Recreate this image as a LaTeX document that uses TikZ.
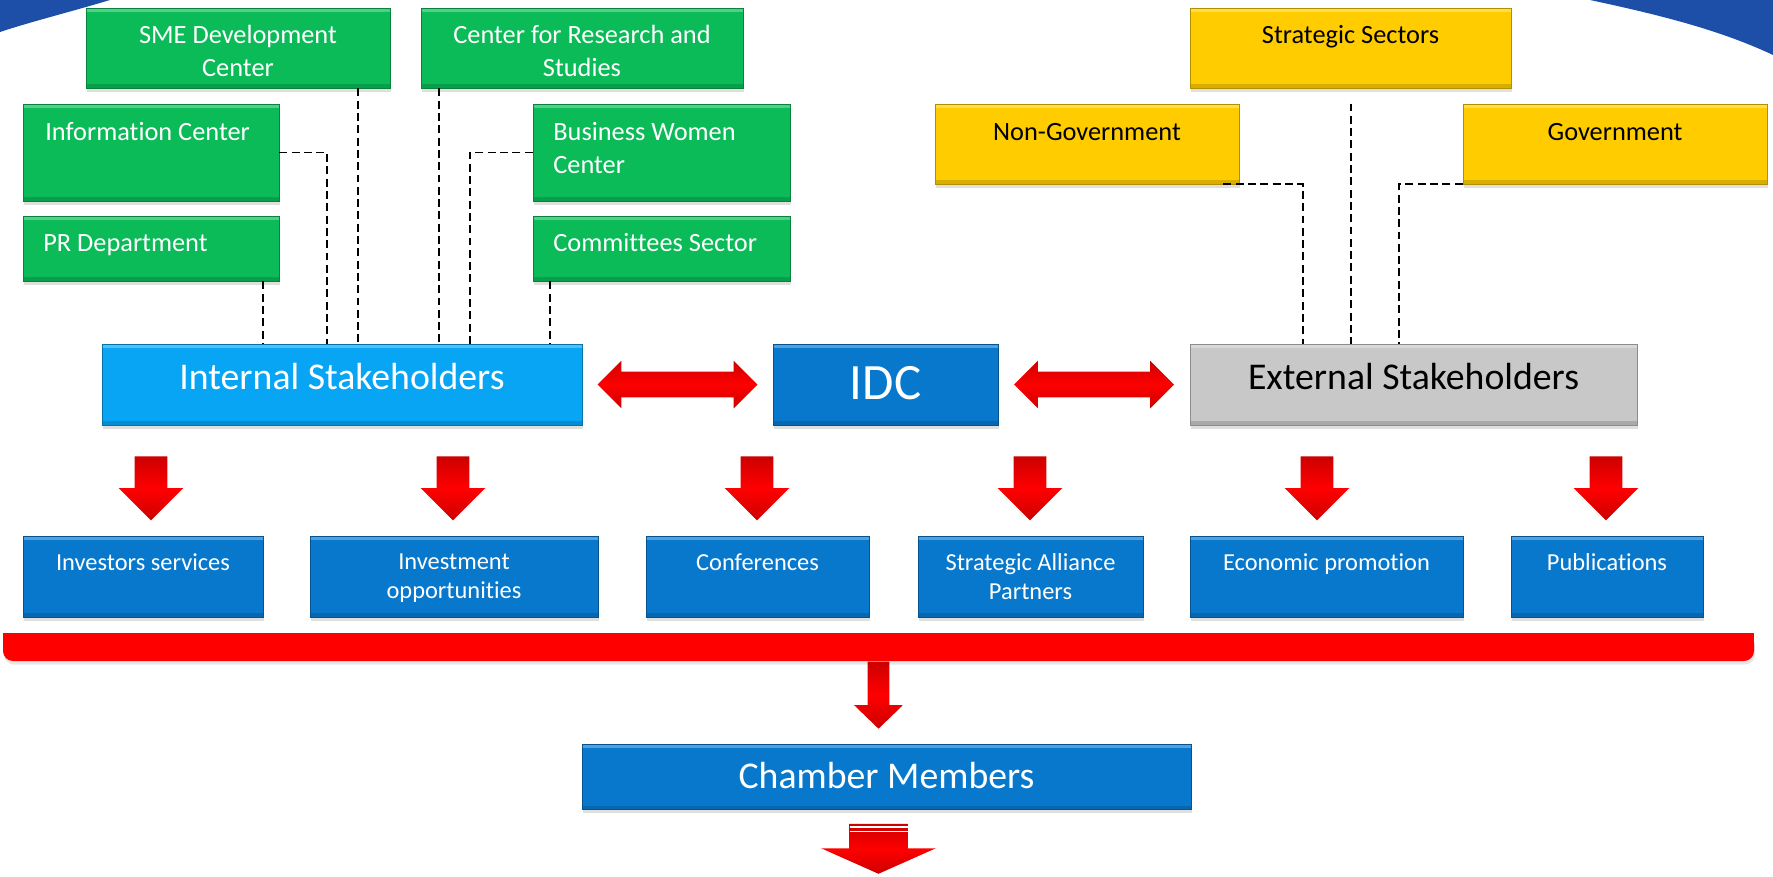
\documentclass[tikz,border=0pt]{standalone}
\usepackage{fontspec}
\setmainfont{Carlito}[Ligatures=NoCommon]
\usetikzlibrary{fit,calc,shapes.arrows,shadows}

% Colors
\definecolor{boxgreen}{HTML}{0BBB58}
\definecolor{boxyellow}{HTML}{FFCC00}
\definecolor{boxsky}{HTML}{08A5F5}
\definecolor{boxblue}{HTML}{0878CD}
\definecolor{boxgrey}{HTML}{C8C8C8}
\definecolor{barred}{HTML}{FF0000}
\definecolor{swoosh}{HTML}{1D4FA8}

\begin{document}
\begin{tikzpicture}[x=0.02cm, y=-0.02cm,
	box/.style={rectangle, inner sep=0pt, fill=#1, draw=#1!70!black, line width=0.5pt,
		drop shadow={shadow xshift=0.8pt, shadow yshift=-2.4pt, opacity=0.25},
		path picture={
			\fill[white, opacity=0.3] (path picture bounding box.north west) rectangle ([yshift=-2.5pt]path picture bounding box.north east);
			\fill[black, opacity=0.15] (path picture bounding box.south west) rectangle ([yshift=2pt]path picture bounding box.south east);}},
	gtxt/.style={font=\fontsize{15}{18.8}\selectfont, text=white, inner sep=0pt},
	ytxt/.style={font=\fontsize{15}{18.8}\selectfont, text=black, inner sep=0pt},
	bigtxt/.style={font=\fontsize{21.5}{26}\selectfont, inner sep=0pt, anchor=base},
	smalltxt/.style={font=\fontsize{13.9}{16.5}\selectfont, text=white, inner sep=0pt, align=center, anchor=north},
	dline/.style={black, line width=1.1pt, dash pattern=on 4.5pt off 2.5pt},
	redarrow/.style={single arrow, inner xsep=0pt, single arrow head indent=0pt,
		top color=barred!80!black, bottom color=barred!80!black, middle color=barred},
	downarrow/.style={redarrow, rotate=-90, anchor=tail, inner ysep=0.32cm, minimum height=1.28cm, minimum width=1.28cm, single arrow head extend=0.32cm},
	dblarrow/.style={double arrow, inner xsep=0pt, inner ysep=0.25cm, double arrow head indent=0pt, minimum height=3.2cm, minimum width=0.94cm,
		double arrow head extend=0.22cm, top color=barred!80!black, bottom color=barred!80!black, middle color=barred},
	]
	\useasboundingbox (0,0) rectangle (1773,876);
	
	% Background corners
	\fill[swoosh] (0,0) -- (110,0) .. controls (70,12) and (30,22) .. (0,32) -- cycle;
	\fill[swoosh] (1590,0) .. controls (1660,15) and (1720,30) .. (1773,55) -- (1773,0) -- cycle;
	
	% Internal departments
	\node[box=boxgreen, fit={(86,8) (390,88)}] (sme) {};
	\node[box=boxgreen, fit={(421,8) (743,88)}] (cfr) {};
	\node[box=boxgreen, fit={(23,104) (279,201)}] (info) {};
	\node[box=boxgreen, fit={(533,104) (790,201)}] (bw) {};
	\node[box=boxgreen, fit={(23,216) (279,281)}] (pr) {};
	\node[box=boxgreen, fit={(533,216) (790,281)}] (cs) {};
	\node[gtxt, anchor=north, align=center] (sme-t) at (sme.north |- 0,25) {SME Development\\Center};
	\node[gtxt, anchor=north, align=center] (cfr-t) at (cfr.north |- 0,25) {Center for Research and\\Studies};
	\node[gtxt, anchor=base west] (info-t) at (45,140.5) {Information Center};
	\node[gtxt, anchor=north west, align=left] (bw-t) at (553,122) {Business Women\\Center};
	\node[gtxt, anchor=base west] (pr-t) at (43,251.5) {PR Department};
	\node[gtxt, anchor=base west] (cs-t) at (553,251.5) {Committees Sector};
	
	% External sectors
	\node[box=boxyellow, fit={(1190,8) (1511,88)}] (ss) {};
	\node[box=boxyellow, fit={(935,104) (1239,184)}] (ng) {};
	\node[box=boxyellow, fit={(1463,104) (1767,184)}] (gov) {};
	\node[ytxt, anchor=base] (ss-t) at (ss.north |- 0,43.5) {Strategic Sectors};
	\node[ytxt, anchor=base] (ng-t) at (ng.north |- 0,140.5) {Non-Government};
	\node[ytxt, anchor=base] (gov-t) at (gov.north |- 0,140.5) {Government};
	
	% Stakeholders and IDC
	\node[box=boxsky, fit={(102,344) (582,425)}] (is) {};
	\node[box=boxblue, fit={(773,344) (998,425)}] (idc) {};
	\node[box=boxgrey, fit={(1190,344) (1637,425)}] (es) {};
	\node[bigtxt, text=white] (is-t) at (is.north |- 0,389.5) {Internal Stakeholders};
	\node[bigtxt, text=white, font=\fontsize{29}{34}\selectfont] (idc-t) at (idc.north |- 0,399.5) {IDC};
	\node[bigtxt, text=black] (es-t) at (es.north |- 0,389.5) {External Stakeholders};
	
	\node[dblarrow] (is-idc) at ($(is.east)!0.5!(idc.west)$) {};
	\node[dblarrow] (idc-es) at ($(idc.east)!0.5!(es.west)$) {};
	
	% Dashed links
	\draw[dline] (pr.south -| 263,0) -- (263,0 |- is.north);
	\draw[dline] (info.east) -| (327,0 |- is.north);
	\draw[dline] (sme.south -| 358,0) -- (358,0 |- is.north);
	\draw[dline] (cfr.south -| 439,0) -- (439,0 |- is.north);
	\draw[dline] (bw.west) -| (470,0 |- is.north);
	\draw[dline] (cs.south -| 550,0) -- (550,0 |- is.north);
	\draw[dline] ([xshift=-0.32cm]ng.south east) -| (1303,0 |- es.north);
	\draw[dline] (1351,0 |- ng.north) -- (1351,0 |- es.north);
	\draw[dline] (gov.south west) -| (1399,0 |- es.north);
	
	% Services
	\foreach \nm/\xa/\xb/\ax/\txt in {inv/23/263/151/Investors services,
		opp/310/598/453/Investment\\opportunities,
		conf/646/869/757/Conferences,
		sap/918/1143/1030/Strategic Alliance\\Partners,
		eco/1190/1463/1317/Economic promotion,
		pub/1511/1703/1606/Publications}{
		\node[downarrow] (\nm-a) at (\ax,456) {};
		\node[box=boxblue, fit={(\xa,536) (\xb,617)}] (\nm) {};
		\node[smalltxt] (\nm-t) at (\nm.north |- 0,553) {\txt};
	}
	
	% Red bar
	\node[fit={(3,633) (1754,661)}, inner sep=0pt, fill=barred, rounded corners=0.2cm,
	drop shadow={shadow xshift=0.6pt, shadow yshift=-2pt, opacity=0.2}] (bar) {};
	\fill[barred] (bar.north west) rectangle (bar.east);
	
	\node[redarrow, rotate=-90, anchor=tail, inner ysep=0.21cm, minimum height=1.34cm, minimum width=0.96cm,
	single arrow head extend=0.27cm, single arrow tip angle=92] (bar-a) at (bar.south) {};
	
	% Members
	\node[box=boxblue, fit={(582,744) (1191,809)}] (cm) {};
	\node[bigtxt, text=white] (cm-t) at (cm.north |- 0,788) {Chamber Members};
	
	\node[redarrow, rotate=-90, anchor=tail, inner ysep=0.58cm, minimum height=1.0cm, minimum width=2.28cm,
	single arrow head extend=0.56cm, single arrow tip angle=132] (cm-a) at ([yshift=-0.28cm]cm.south -| bar.south) {};
	\foreach \s in {2pt,4.5pt}
	\draw[white, line width=0.7pt] ([xshift=-0.58cm, yshift=-\s]cm-a.tail) -- ([xshift=0.58cm, yshift=-\s]cm-a.tail);
\end{tikzpicture}
\end{document}
